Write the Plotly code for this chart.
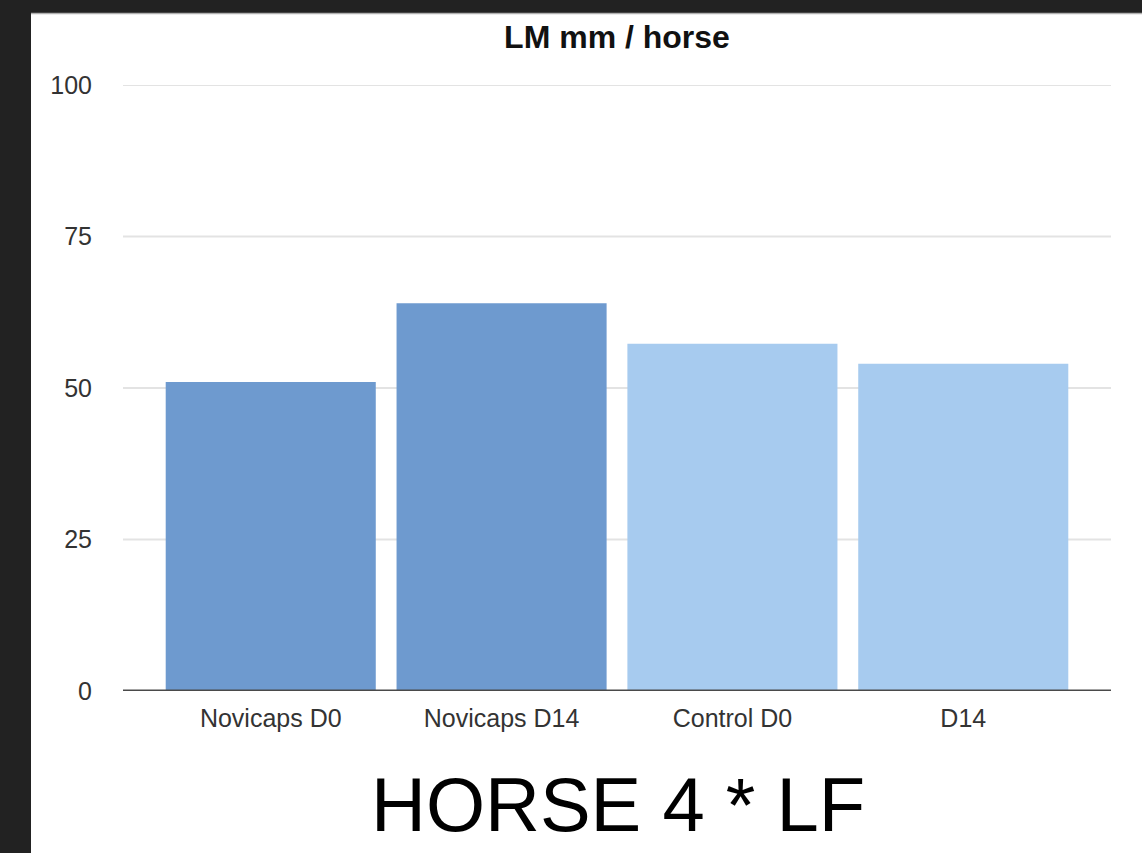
import plotly.graph_objects as go

categories = ["Novicaps D0", "Novicaps D14", "Control D0", "D14"]
values = [51, 64, 57.3, 54]
bar_colors = ["#6e9acf", "#6e9acf", "#a7cbef", "#a7cbef"]
y_ticks = [0, 25, 50, 75, 100]
chart_title = "LM mm / horse"
caption = "HORSE 4 * LF"

W, H = 1142, 853
L, R = 123, 1111
T, B = 85, 691
pw, ph = R - L, B - T

def px_x(p):
    return (p - L) / pw

def px_y(p):
    return (B - p) / ph

FONT = "Helvetica, Arial, 'Liberation Sans', sans-serif"

fig = go.Figure()
fig.add_trace(go.Bar(
    x=categories, y=values,
    marker=dict(color=bar_colors, line=dict(width=0)),
    width=0.91,
    hoverinfo="x+y",
))

fig.update_layout(
    width=W, height=H,
    margin=dict(l=L, r=W - R, t=T, b=H - B, pad=0),
    paper_bgcolor="#222222",
    plot_bgcolor="white",
    showlegend=False,
    title=dict(text="<b>" + chart_title + "</b>", x=0.5, xref="paper",
               y=1 - 37 / H, yref="container", xanchor="center", yanchor="middle",
               font=dict(family=FONT, size=32, color="#111111")),
    xaxis=dict(
        range=[-0.64, 3.64],
        showgrid=False, zeroline=False,
        showline=False,
        ticks="",
        tickfont=dict(family=FONT, size=25, color="#333333"),
        ticklabelstandoff=10,
    ),
    yaxis=dict(
        range=[0, 100],
        tickvals=y_ticks,
        showgrid=False,
        zeroline=False,
        showline=False, ticks="",
        tickfont=dict(family=FONT, size=25, color="#333333"),
        ticklabelstandoff=30,
    ),
    shapes=[
        dict(type="rect", xref="paper", yref="paper", layer="below",
             x0=px_x(31), x1=px_x(W + 5), y0=px_y(13), y1=px_y(H + 5),
             fillcolor="white", line=dict(width=0)),
        dict(type="line", xref="paper", yref="paper", layer="below",
             x0=px_x(31), x1=px_x(W + 5), y0=px_y(13.5), y1=px_y(13.5),
             line=dict(color="#b0b0b0", width=1.5)),
    ] + [
        dict(type="line", xref="paper", yref="y", layer="below",
             x0=0, x1=1, y0=v, y1=v,
             line=dict(color="#e3e3e3", width=2))
        for v in y_ticks if v != 0
    ] + [
        dict(type="line", xref="paper", yref="y", layer="above",
             x0=0, x1=1, y0=0, y1=0,
             line=dict(color="#4a4a4a", width=3)),
    ],
    annotations=[
        dict(text=caption, xref="paper", yref="paper",
             x=px_x(618), y=px_y(804), xanchor="center", yanchor="middle",
             showarrow=False, font=dict(family=FONT, size=76, color="#000000")),
    ],
    bargap=0.09,
)

fig.write_html(
    "out.html",
    config={"displayModeBar": False},
    post_script="document.body.style.margin='0';document.body.style.background='#222222';",
)
